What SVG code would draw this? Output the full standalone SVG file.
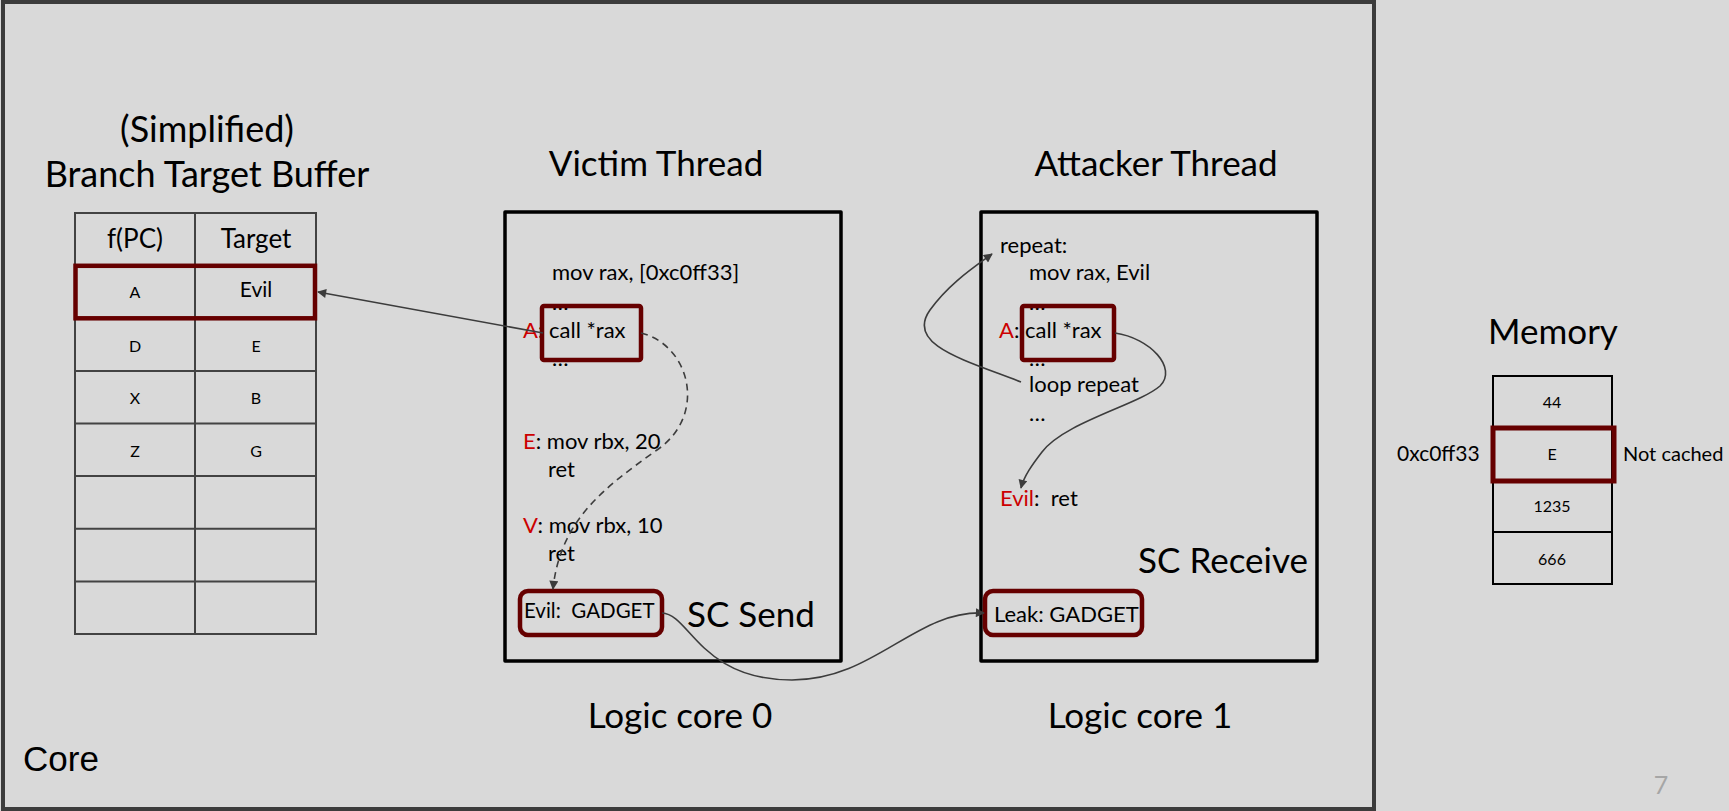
<svg xmlns="http://www.w3.org/2000/svg" width="1729" height="811" viewBox="0 0 1729 811">
<style>
text{font-family:Lato,"Source Sans Pro","Noto Sans",sans-serif;fill:#000}
.title{font-size:35px;text-anchor:middle}
.code{font-size:22px;white-space:pre}
.red{fill:#cc0000}
.cell{font-size:16px;text-anchor:middle}
.hdr{font-size:26px;text-anchor:middle}
.tbl{fill:none;stroke:#434343;stroke-width:2}
.mem{fill:none;stroke:#000;stroke-width:2}
.hl{fill:none;stroke:#660000;stroke-width:4.5}
.thread{fill:none;stroke:#000;stroke-width:3.5;stroke-linejoin:round}
.conn{fill:none;stroke:#3c3c3c;stroke-width:1.6}
</style>
<defs>
<marker id="ah" viewBox="0 0 10 10" refX="9" refY="5" markerWidth="11" markerHeight="9" markerUnits="userSpaceOnUse" orient="auto">
<path d="M0,0 L10,5 L0,10 z" fill="#3c3c3c"/>
</marker>
</defs>
<rect x="0" y="0" width="1729" height="811" fill="#d9d9d9"/>
<rect x="3" y="2" width="1371" height="807" fill="none" stroke="#3c3c3c" stroke-width="4"/>
<text x="23" y="771" style="font-family:'Liberation Sans',Arial,sans-serif;font-size:35px">Core</text>
<text x="1661" y="794" style="font-size:25px;fill:#a6a6a6;text-anchor:middle">7</text>

<g id="btb">
<text class="title" x="207" y="142" style="font-size:36px">(Simplified)</text>
<text class="title" x="207" y="187" style="font-size:36px">Branch Target Buffer</text>
<rect class="tbl" x="75" y="213" width="241" height="421"/>
<path class="tbl" d="M195,213V634M75,265.6H316M75,318.2H316M75,370.9H316M75,423.5H316M75,476.1H316M75,528.7H316M75,581.4H316"/>
<text class="hdr" x="135" y="248">f(PC)</text>
<text class="hdr" x="256" y="248">Target</text>
<text class="cell" x="135" y="298">A</text>
<text class="cell" x="256" y="297" style="font-size:21px">Evil</text>
<text class="cell" x="135" y="352">D</text>
<text class="cell" x="256" y="352">E</text>
<text class="cell" x="135" y="404">X</text>
<text class="cell" x="256" y="404">B</text>
<text class="cell" x="135" y="457">Z</text>
<text class="cell" x="256" y="457">G</text>
<rect class="hl" x="75.5" y="265.8" width="239.5" height="52.5"/>
</g>

<g id="victim">
<text class="title" x="656" y="176">Victim Thread</text>
<rect class="thread" x="505" y="212" width="336" height="449"/>
<text class="code" x="552" y="280">mov rax, [0xc0ff33]</text>
<text class="code" x="552" y="310">…</text>
<text class="code" x="523" y="338"><tspan class="red">A</tspan>: call *rax</text>
<text class="code" x="552" y="366">…</text>
<text class="code" x="523" y="449"><tspan class="red">E</tspan>: mov rbx, 20</text>
<text class="code" x="548" y="477">ret</text>
<text class="code" x="523" y="533"><tspan class="red">V</tspan>: mov rbx, 10</text>
<text class="code" x="548" y="561">ret</text>
<rect class="hl" x="542" y="306" width="99" height="54" rx="2"/>
<rect class="hl" x="520" y="591" width="142" height="44" rx="8"/>
<text class="code" x="524" y="618" style="font-size:20.5px">Evil:  GADGET</text>
<text x="687" y="627" style="font-size:35px">SC Send</text>
<text class="title" x="680" y="728">Logic core 0</text>
</g>

<g id="attacker">
<text class="title" x="1156" y="176">Attacker Thread</text>
<rect class="thread" x="981" y="212" width="336" height="449"/>
<text class="code" x="1000" y="253">repeat:</text>
<text class="code" x="1029" y="280">mov rax, Evil</text>
<text class="code" x="1029" y="310">…</text>
<text class="code" x="999" y="338"><tspan class="red">A</tspan>: call *rax</text>
<text class="code" x="1029" y="366">…</text>
<text class="code" x="1029" y="392">loop repeat</text>
<text class="code" x="1029" y="421">…</text>
<text class="code" x="1000" y="506"><tspan class="red">Evil</tspan>:  ret</text>
<rect class="hl" x="1022" y="306" width="92" height="54" rx="2"/>
<text x="1308" y="573" style="font-size:35px;text-anchor:end">SC Receive</text>
<rect class="hl" x="985" y="591" width="157" height="44" rx="8"/>
<text class="code" x="994" y="622">Leak: GADGET</text>
<text class="title" x="1140" y="728">Logic core 1</text>
</g>

<g id="memory">
<text class="title" x="1553" y="344">Memory</text>
<rect class="mem" x="1493" y="376" width="119" height="208"/>
<path class="mem" d="M1493,428H1612M1493,480H1612M1493,532H1612"/>
<text class="cell" x="1552" y="408">44</text>
<text class="cell" x="1552" y="460">E</text>
<text class="cell" x="1552" y="512">1235</text>
<text class="cell" x="1552" y="565">666</text>
<rect class="hl" x="1493" y="428" width="121" height="53" style="stroke-width:5"/>
<text x="1397" y="461" style="font-size:21px">0xc0ff33</text>
<text x="1623" y="461" style="font-size:20px">Not cached</text>
</g>

<g id="connectors">
<path class="conn" d="M543,333 L318,292" marker-end="url(#ah)"/>
<path class="conn" d="M641,333 C690,345 708,415 657,450 C605,487 560,520 553,589" stroke-dasharray="7,5" marker-end="url(#ah)"/>
<path class="conn" d="M662,613 C690,614 700,680 792,680 C875,680 915,610 984,613" marker-end="url(#ah)"/>
<path class="conn" d="M1021,382 C965,360 905,345 930,310 C948,285 970,270 992,254" marker-end="url(#ah)"/>
<path class="conn" d="M1115,333 C1150,338 1178,368 1160,386 C1138,405 1065,422 1042,452 C1032,465 1024,476 1021,488" marker-end="url(#ah)"/>
</g>
</svg>
